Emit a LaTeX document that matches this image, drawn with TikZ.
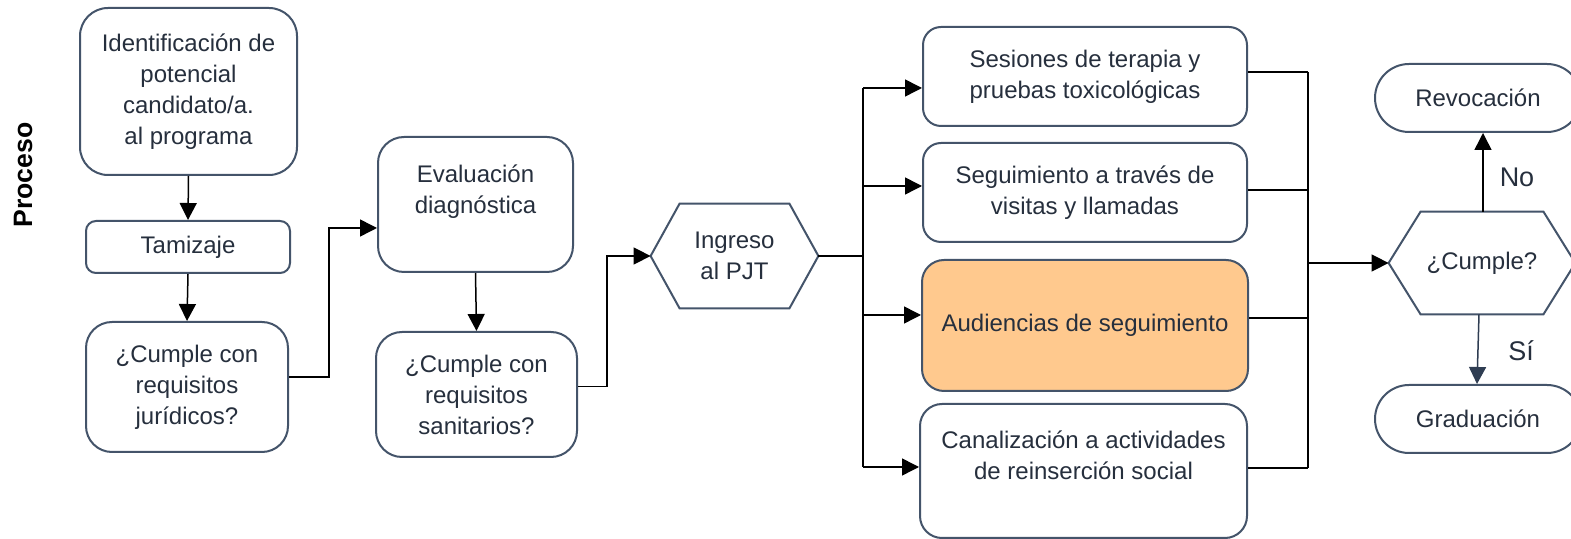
\documentclass[tikz,border=0pt]{standalone}
\usepackage{fontspec}
\setmainfont{Liberation Sans}
\usetikzlibrary{arrows.meta}
\definecolor{boxc}{HTML}{44546A}
\definecolor{txt}{HTML}{262F3D}
\definecolor{orangef}{HTML}{FFC98E}
\definecolor{navy}{HTML}{2F3D52}
\newcommand\mf{\fontsize{12}{15.5}\selectfont}
\tikzset{
  box/.style={draw=boxc, line width=1pt, align=center, text=txt, font=\mf, inner sep=0pt},
  hexnode/.style={align=center, text=txt, font=\mf, inner sep=0pt},
  sz/.style 2 args={minimum width=#1*0.5pt, minimum height=#2*0.5pt},
  hexline/.style={draw=boxc, line width=1pt, line join=miter},
  conn/.style={draw=black, line width=0.75pt},
  arr/.style={conn, -{Triangle[length=8.5pt,width=8.5pt]}},
  lbl/.style={text=txt, font=\fontsize{13.5}{16}\selectfont, inner sep=0pt}
}
\begin{document}
\begin{tikzpicture}[x=0.5pt,y=-0.5pt]
\path[use as bounding box] (0,0) rectangle (1571,539);
\clip (0,0) rectangle (1571,539);
\fill[white] (0,0) rectangle (1571,539);

% side label
\node[rotate=90, font=\fontsize{13.3}{15}\selectfont\bfseries, text=black, inner sep=0pt] (proc) at (23,175) {Proceso};

% left column
\node[box, sz={217}{167}, rounded corners=14pt] (n1) at (188.5,91.5) {Identificación de\\potencial\\candidato/a.\\ al programa};
\node[box, sz={204}{52}, rounded corners=5pt] (tam) at (188,247) {Tamizaje};
\node[box, sz={202}{130}, rounded corners=13pt] (jur) at (187,387) {¿Cumple con\\requisitos\\jurídicos?};

% second column
\node[box, sz={195}{135}, rounded corners=13pt] (eva) at (475.5,204.5) {Evaluación\\diagnóstica\\~};
\node[box, sz={201}{125}, rounded corners=13pt] (san) at (476.5,394.5) {¿Cumple con\\requisitos\\sanitarios?};

% hexagon ingreso
\node[hexnode, sz={167}{104}] (ing) at (734.5,256) {Ingreso\\al PJT};
\draw[hexline] (ing.west) -- ([xshift=14.5pt]ing.north west) -- ([xshift=-14.5pt]ing.north east)
  -- (ing.east) -- ([xshift=-14.5pt]ing.south east) -- ([xshift=14.5pt]ing.south west) -- cycle;

% activity boxes
\node[box, sz={324}{99}, rounded corners=9pt] (A) at (1085,76.5) {Sesiones de terapia y\\pruebas toxicológicas};
\node[box, sz={324}{99}, rounded corners=9pt] (B) at (1085,192.5) {Seguimiento a través de\\visitas y llamadas};
\node[box, sz={326}{131}, rounded corners=11pt, fill=orangef] (C) at (1085,325.5) {Audiencias de seguimiento};
\node[box, sz={327}{134}, rounded corners=11pt] (D) at (1083.5,471) {Canalización a actividades\\de reinserción social\\~};

% decision hexagon
\node[hexnode, sz={186}{102}] (cum) at (1482,263) {¿Cumple?};
\draw[hexline] (cum.west) -- ([xshift=16pt]cum.north west) -- ([xshift=-16pt]cum.north east)
  -- (cum.east) -- ([xshift=-16pt]cum.south east) -- ([xshift=16pt]cum.south west) -- cycle;

% terminals
\node[box, sz={206}{68}, rounded corners=17pt] (rev) at (1478,98) {Revocación};
\node[box, sz={206}{68}, rounded corners=17pt] (gra) at (1478,419) {Graduación};

% connectors left
\draw[arr] (n1.south) -- (tam.north);
\draw[arr] (tam.south) -- (jur.north);
\coordinate (j1) at (329,228);
\draw[arr] ([yshift=5pt]jur.east) -| (j1) -- (j1 -| eva.west);
\draw[arr] (eva.south) -- (san.north);
\coordinate (s1) at (607,256);
\draw[arr] ([yshift=4pt]san.east) -| (s1) -- (ing.west);

% left bus
\coordinate (b1) at (863,88);
\coordinate (b2) at (863,186);
\coordinate (b3) at (863,315);
\coordinate (b4) at (863,467);
\draw[conn] (ing.east) -- (ing.east -| b1);
\draw[conn] (b1) -- (b4);
\draw[arr] (b1) -- (b1 -| A.west);
\draw[arr] (b2) -- (b2 -| B.west);
\draw[arr] (b3) -- (b3 -| C.west);
\draw[arr] (b4) -- (b4 -| D.west);

% right bus
\coordinate (r1) at (1308,72);
\coordinate (r2) at (1308,190);
\coordinate (r3) at (1308,318);
\coordinate (r4) at (1308,468);
\coordinate (rm) at (1308,263);
\draw[conn] (r1 -| A.east) -- (r1);
\draw[conn] (r2 -| B.east) -- (r2);
\draw[conn] (r3 -| C.east) -- (r3);
\draw[conn] (r4 -| D.east) -- (r4);
\draw[conn] (r1) -- (r4);
\draw[arr] (rm) -- (cum.west);

% decision outputs
\draw[arr] ([xshift=0.5pt]cum.north) -- ([xshift=2.5pt]rev.south);
\draw[arr, draw=navy, -{Triangle[length=8.5pt,width=8.5pt,fill=navy]}] ([xshift=-1.5pt]cum.south) -- ([xshift=-0.5pt]gra.north);
\node[lbl] (no) at (1517,177) {No};
\node[lbl] (si) at (1521,351) {Sí};
\end{tikzpicture}
\end{document}
